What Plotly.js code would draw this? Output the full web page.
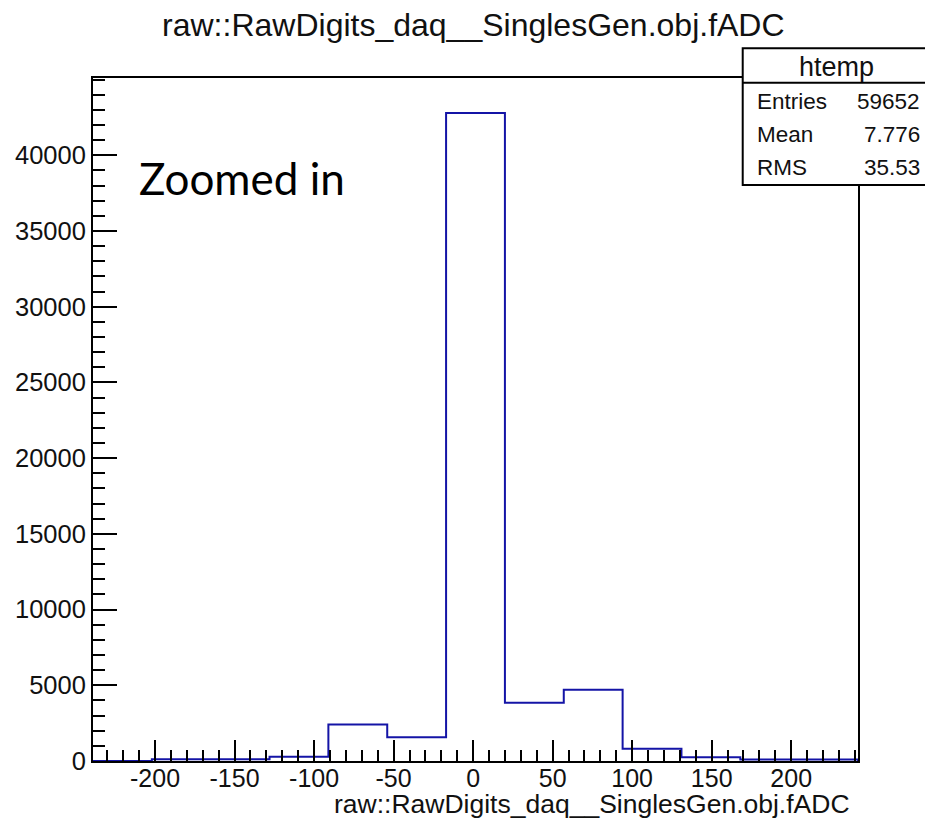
<!DOCTYPE html>
<html>
<head>
<meta charset="utf-8">
<script src="https://cdn.plot.ly/plotly-3.0.1.min.js"></script>
<style>html,body{margin:0;padding:0;background:#fff;}#chart{width:925px;height:819px;}</style>
</head>
<body>
<div id="chart"></div>
<script>
// ---- data ----
var binEdges = [-239, -202, -165, -128, -91, -54, -17, 20, 57, 94, 131, 168, 205, 242];
var binCounts = [0, 110, 110, 280, 2410, 1570, 42790, 3845, 4700, 805, 250, 100, 100];
var xTickVals = [-200, -150, -100, -50, 0, 50, 100, 150, 200];
var xTickLabels = ["-200", "-150", "-100", "-50", "0", "50", "100", "150", "200"];
var yTickVals = [0, 5000, 10000, 15000, 20000, 25000, 30000, 35000, 40000];
var yTickLabels = ["0", "5000", "10000", "15000", "20000", "25000", "30000", "35000", "40000"];
var chartTitle = "raw::RawDigits_daq__SinglesGen.obj.fADC";
var xAxisTitle = "raw::RawDigits_daq__SinglesGen.obj.fADC";
var statsName = "htemp";
var statsLabels = ["Entries", "Mean", "RMS"];
var statsValues = ["59652", "7.776", "35.53"];
var noteText = "Zoomed in";

// step outline of the histogram: (e0,0),(e0,c0),(e1,c1),...,(e12,c12),(e13,0) with hv steps
var xs = [binEdges[0]], ys = [0];
for (var j = 0; j < binCounts.length; j++) { xs.push(binEdges[j]); ys.push(binCounts[j]); }
xs.push(binEdges[binEdges.length - 1]); ys.push(0);

var FONT = "Liberation Sans, Arial, Helvetica, sans-serif";

var trace = {
  type: "scatter", mode: "lines", x: xs, y: ys,
  line: {shape: "hv", color: "#1414a6", width: 2},
  hoverinfo: "skip", showlegend: false, cliponaxis: true
};

var statsY = [0.9656, 0.9166, 0.8683];
var annotations = [
  {xref: "paper", yref: "paper", x: 0.9918, y: -0.0625, xanchor: "right", yanchor: "middle",
   text: xAxisTitle, showarrow: false, font: {family: FONT, size: 26.5, color: "#111"}},
  {xref: "paper", yref: "paper", x: 0.0575, y: 0.8536, xanchor: "left", yanchor: "middle",
   text: noteText, showarrow: false, font: {family: "Lato, Open Sans, sans-serif", size: 44, color: "#000"}},
  {xref: "paper", yref: "paper", x: 0.9721, y: 1.0161, xanchor: "center", yanchor: "middle",
   text: statsName, showarrow: false, font: {family: FONT, size: 27, color: "#111"}}
];
for (var k = 0; k < statsLabels.length; k++) {
  annotations.push({xref: "paper", yref: "paper", x: 0.8654, y: statsY[k], xanchor: "left", yanchor: "middle",
    text: statsLabels[k], showarrow: false, font: {family: FONT, size: 22.5, color: "#111"}});
  annotations.push({xref: "paper", yref: "paper", x: 1.0833, y: statsY[k], xanchor: "right", yanchor: "middle",
    text: statsValues[k], showarrow: false, font: {family: FONT, size: 22.5, color: "#111"}});
}

var layout = {
  width: 925, height: 819,
  margin: {l: 93, r: 67, t: 78, b: 58, pad: 0},
  paper_bgcolor: "#fff", plot_bgcolor: "#fff",
  title: {text: chartTitle, xref: "container", yref: "container", x: 0.5117, y: 0.9695,
          xanchor: "center", yanchor: "middle", font: {family: FONT, size: 32, color: "#111"}},
  xaxis: {
    range: [binEdges[0], binEdges[binEdges.length - 1]],
    showgrid: false, zeroline: false,
    showline: true, mirror: true, linecolor: "#000", linewidth: 2,
    ticks: "inside", ticklen: 21, tickwidth: 2, tickcolor: "#000",
    tickmode: "array", tickvals: xTickVals, ticktext: xTickLabels,
    ticklabelstandoff: -6,
    minor: {tickmode: "linear", tick0: 0, dtick: 10, ticks: "inside", ticklen: 11, tickwidth: 2, tickcolor: "#000", showgrid: false},
    tickfont: {family: FONT, size: 25, color: "#111"}
  },
  yaxis: {
    range: [0, 45100],
    showgrid: false, zeroline: false,
    showline: true, mirror: true, linecolor: "#000", linewidth: 2,
    ticks: "inside", ticklen: 24, tickwidth: 2, tickcolor: "#000",
    tickmode: "array", tickvals: yTickVals, ticktext: yTickLabels,
    minor: {tickmode: "linear", tick0: 0, dtick: 1000, ticks: "inside", ticklen: 12, tickwidth: 2, tickcolor: "#000", showgrid: false},
    tickfont: {family: FONT, size: 25.5, color: "#111"}
  },
  shapes: [
    {type: "rect", xref: "paper", yref: "paper", x0: 0.8493, x1: 1.12, y0: 0.8433, y1: 1.0435,
     fillcolor: "#fff", line: {color: "#000", width: 2}, layer: "above"},
    {type: "line", xref: "paper", yref: "paper", x0: 0.8493, x1: 1.12, y0: 0.9931, y1: 0.9931,
     line: {color: "#000", width: 2}, layer: "above"}
  ],
  annotations: annotations
};

Plotly.newPlot("chart", [trace], layout, {displayModeBar: false, staticPlot: true});
</script>
</body>
</html>
